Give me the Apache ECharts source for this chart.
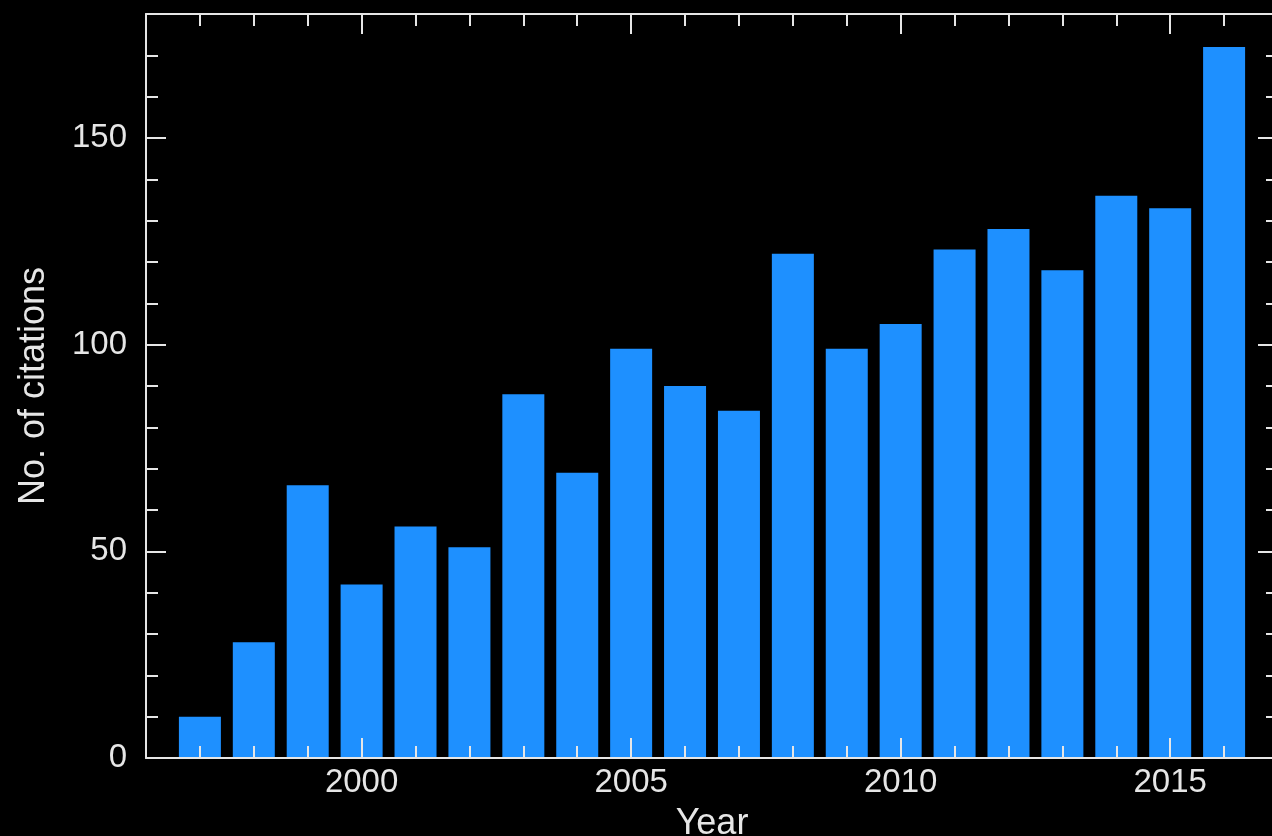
<!DOCTYPE html>
<html>
<head>
<meta charset="utf-8">
<title>No. of citations per year</title>
<script src="https://cdn.jsdelivr.net/npm/echarts@6/dist/echarts.min.js"></script>
<style>
    html, body { margin: 0; padding: 0; background: #000; }
    #main { width: 1272px; height: 836px; }
</style>
</head>
<body>
<div id="main"></div>
<script>
// 数据
var years = [1997, 1998, 1999, 2000, 2001, 2002, 2003, 2004, 2005, 2006,
             2007, 2008, 2009, 2010, 2011, 2012, 2013, 2014, 2015, 2016];
var citations = [10, 28, 66, 42, 56, 51, 88, 69, 99, 90,
                 84, 122, 99, 105, 123, 128, 118, 136, 133, 172];

// 刻度
var yearMajorTicks = [2000, 2005, 2010, 2015];
var yearMinorTicks = [1997, 1998, 1999, 2001, 2002, 2003, 2004, 2006, 2007, 2008,
                      2009, 2011, 2012, 2013, 2014, 2016];
var countMajorTicks = [0, 50, 100, 150];
var countMinorTicks = [10, 20, 30, 40, 60, 70, 80, 90, 110, 120, 130, 140, 160, 170];

var fg = '#e6e6e6';
var font = "'Liberation Sans', Arial, Helvetica, sans-serif";

// 坐标轴（主刻度 + 次刻度各一根），画在柱子上面
function xAxisOf(position, ticks, tickLen, showLine, showLabel) {
    return {
        type: 'value',
        position: position,
        min: 1996,
        max: 2017,
        z: 5,
        axisLine: { show: showLine, onZero: false, lineStyle: { color: fg, width: 2 } },
        axisTick: { show: true, inside: true, length: tickLen, customValues: ticks,
                    lineStyle: { color: fg, width: 2 } },
        axisLabel: { show: showLabel, customValues: ticks, color: fg,
                     fontSize: 33, fontFamily: font, margin: 8,
                     formatter: function (v) { return String(v); } },
        splitLine: { show: false }
    };
}

function yAxisOf(position, ticks, tickLen, showLine, showLabel) {
    return {
        type: 'value',
        position: position,
        min: 0,
        max: 180,
        z: 5,
        axisLine: { show: showLine, onZero: false, lineStyle: { color: fg, width: 2 } },
        axisTick: { show: true, inside: true, length: tickLen, customValues: ticks,
                    lineStyle: { color: fg, width: 2 } },
        axisLabel: { show: showLabel, customValues: ticks, color: fg,
                     fontSize: 33, fontFamily: font, margin: 19 },
        splitLine: { show: false }
    };
}

var chart = echarts.init(document.getElementById('main'));

var xBottom = xAxisOf('bottom', yearMajorTicks, 20, true, true);
xBottom.name = 'Year';
xBottom.nameLocation = 'middle';
xBottom.nameGap = 48;
xBottom.nameTextStyle = { color: fg, fontSize: 36, fontFamily: font };

var yLeft = yAxisOf('left', countMajorTicks, 20, true, true);
yLeft.name = 'No. of citations';
yLeft.nameLocation = 'middle';
yLeft.nameGap = 94;
yLeft.nameTextStyle = { color: fg, fontSize: 36, fontFamily: font };

var option = {
    backgroundColor: '#000',
    animation: false,
    grid: { left: 146, right: -6, top: 14, bottom: 78, containLabel: false,
            outerBoundsMode: 'none' },
    xAxis: [
        xBottom,
        xAxisOf('bottom', yearMinorTicks, 12, false, false),
        xAxisOf('top', yearMajorTicks, 20, true, false),
        xAxisOf('top', yearMinorTicks, 12, false, false)
    ],
    yAxis: [
        yLeft,
        yAxisOf('left', countMinorTicks, 12, false, false),
        yAxisOf('right', countMajorTicks, 20, true, false),
        yAxisOf('right', countMinorTicks, 12, false, false)
    ],
    series: [{
        name: 'No. of citations',
        type: 'bar',
        xAxisIndex: 0,
        yAxisIndex: 0,
        barWidth: 42,
        itemStyle: { color: '#1e90ff' },
        data: years.map(function (y, i) { return [y, citations[i]]; })
    }]
};

chart.setOption(option);
</script>
</body>
</html>
